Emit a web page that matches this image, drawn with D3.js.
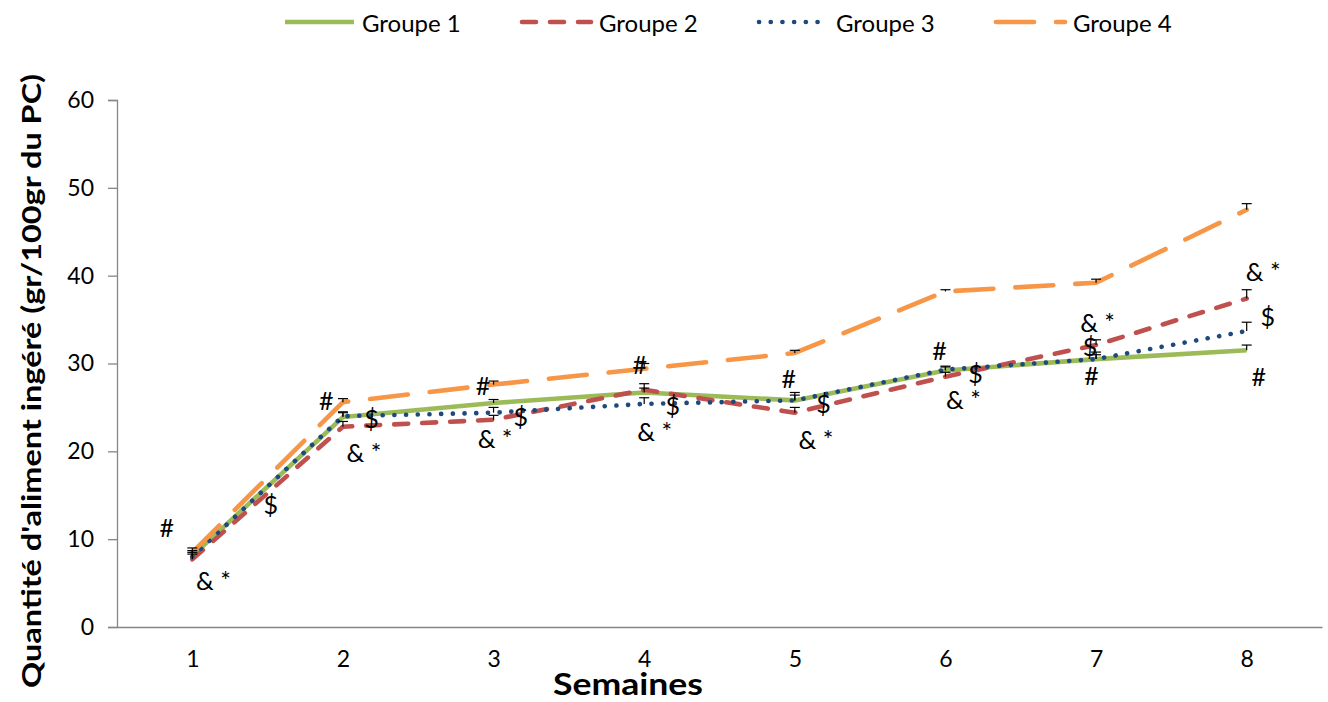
<!DOCTYPE html>
<html>
<head>
<meta charset="utf-8">
<script src="https://cdn.jsdelivr.net/npm/d3@7"></script>
<style>
    body { margin: 0; background: #fff; }
    text { font-family: Lato, "Noto Sans", sans-serif; }
</style>
</head>
<body>
<div id="chart"></div>
<script>
// data
const weeks = [1, 2, 3, 4, 5, 6, 7, 8];
const groupNames = ['Groupe 1', 'Groupe 2', 'Groupe 3', 'Groupe 4'];
const groupe1 = [8.1, 23.9, 25.5, 26.7, 25.8, 29.2, 30.5, 31.5];
const groupe2 = [7.7, 22.8, 23.6, 27.0, 24.4, 28.5, 32.1, 37.4];
const groupe3 = [8.0, 24.0, 24.4, 25.4, 25.8, 29.3, 30.5, 33.7];
const groupe4 = [8.5, 25.6, 27.6, 29.4, 31.2, 38.2, 39.2, 47.5];
// error bars (plus direction only)
const err1 = [0.6, 0.5, 0.4, 0.5, 0.6, 0.4, 0.5, 0.6];
const err2 = [0.6, 0.6, 0.5, 0.7, 0.6, 0.5, 0.6, 1.0];
const err3 = [0.5, 0.5, 0.6, 0.7, 0.9, 0.4, 0.8, 1.0];
const err4 = [0.5, 0.4, 0.4, 0.6, 0.3, 0.2, 0.4, 0.7];
const yTicks = [0, 10, 20, 30, 40, 50, 60];

// significance marks: label, week position, value position
const annoLabels = ['#', '& *', '$',
    '#', '$', '& *',
    '#', '$', '& *',
    '#', '$', '& *',
    '#', '$', '& *',
    '#', '$', '& *',
    '& *', '$', '#',
    '& *', '$', '#'];
const annoWeek = [0.83, 1.14, 1.52,
    1.89, 2.19, 2.14,
    2.93, 3.18, 3.01,
    3.97, 4.19, 4.07,
    4.96, 5.19, 5.14,
    5.96, 6.20, 6.12,
    7.01, 6.96, 6.97,
    8.11, 8.14, 8.08];
const annoValue = [11.4, 5.4, 14.0,
    25.9, 23.8, 19.9,
    27.6, 24.0, 21.5,
    30.0, 25.3, 22.3,
    28.4, 25.5, 21.4,
    31.5, 28.9, 26.0,
    34.7, 32.0, 28.7,
    40.5, 35.4, 28.6];

const series = [
    { name: groupNames[0], values: groupe1, err: err1, color: '#9bbb59', dash: null },
    { name: groupNames[1], values: groupe2, err: err2, color: '#c0504d', dash: '14,14' },
    { name: groupNames[2], values: groupe3, err: err3, color: '#1f497d', dash: '0.1,11.6' },
    { name: groupNames[3], values: groupe4, err: err4, color: '#f79646', dash: '38,22' }
];

const width = 1328, height = 702;
const margin = { top: 100, right: 6, bottom: 75, left: 117 };

const svg = d3.select('#chart').append('svg')
    .attr('width', width)
    .attr('height', height);

const x = d3.scaleLinear()
    .domain([0.5, 8.5])
    .range([margin.left, width - margin.right]);

const y = d3.scaleLinear()
    .domain([0, 60])
    .range([height - margin.bottom, margin.top]);

// y axis
const yAxis = svg.append('g')
    .attr('transform', `translate(${margin.left},0)`)
    .call(d3.axisLeft(y).tickValues(yTicks).tickSize(9).tickPadding(14));
yAxis.select('.domain').attr('stroke', '#868686').attr('stroke-width', 1.3);
yAxis.selectAll('.tick line').attr('stroke', '#868686').attr('stroke-width', 1.3);
yAxis.selectAll('.tick text')
    .style('font-size', '23px')
    .style('font-family', 'Lato, sans-serif')
    .attr('fill', '#000');

// x axis (no ticks)
const xAxis = svg.append('g')
    .attr('transform', `translate(0,${y(0)})`)
    .call(d3.axisBottom(x).tickValues(weeks).tickSize(0).tickPadding(24).tickFormat(d3.format('d')));
xAxis.select('.domain').attr('stroke', '#868686').attr('stroke-width', 1.3);
xAxis.selectAll('.tick text')
    .style('font-size', '23px')
    .style('font-family', 'Lato, sans-serif')
    .attr('fill', '#000');

// titles
svg.append('text')
    .attr('transform', `translate(30,381) rotate(-90)`)
    .attr('text-anchor', 'middle')
    .attr('dominant-baseline', 'central')
    .attr('textLength', 614)
    .attr('lengthAdjust', 'spacingAndGlyphs')
    .style('font-size', '27px')
    .style('font-weight', 'bold')
    .text("Quantité d'aliment ingéré (gr/100gr du PC)");

svg.append('text')
    .attr('x', 628)
    .attr('y', 695)
    .attr('text-anchor', 'middle')
    .attr('textLength', 150)
    .attr('lengthAdjust', 'spacingAndGlyphs')
    .style('font-size', '31px')
    .style('font-weight', 'bold')
    .text('Semaines');

// lines
const line = d3.line()
    .x((d, i) => x(weeks[i]))
    .y(d => y(d));

series.forEach(s => {
    svg.append('path')
        .datum(s.values)
        .attr('d', line)
        .attr('fill', 'none')
        .attr('stroke', s.color)
        .attr('stroke-width', 4.6)
        .attr('stroke-linecap', s.dash ? 'round' : 'butt')
        .attr('stroke-linejoin', 'round')
        .attr('stroke-dasharray', s.dash);
});

// error bars
series.forEach(s => {
    const g = svg.append('g').attr('class', 'errbars');
    s.values.forEach((v, i) => {
        const cx = x(weeks[i]);
        g.append('line')
            .attr('x1', cx).attr('x2', cx)
            .attr('y1', y(v)).attr('y2', y(v + s.err[i]))
            .attr('stroke', '#000').attr('stroke-width', 1.2);
        g.append('line')
            .attr('x1', cx - 5).attr('x2', cx + 5)
            .attr('y1', y(v + s.err[i])).attr('y2', y(v + s.err[i]))
            .attr('stroke', '#000').attr('stroke-width', 1.2);
    });
});

// significance marks
svg.append('g').selectAll('text')
    .data(annoLabels)
    .join('text')
    .attr('x', (d, i) => x(annoWeek[i]))
    .attr('y', (d, i) => y(annoValue[i]))
    .attr('text-anchor', 'middle')
    .attr('dominant-baseline', 'central')
    .style('font-size', '25px')
    .text(d => d);

// legend
const legendX = [362, 599, 836, 1073];
const legend = svg.append('g').attr('class', 'legend');
series.forEach((s, i) => {
    legend.append('line')
        .attr('x1', legendX[i] - 77).attr('x2', legendX[i] - 8)
        .attr('y1', 22).attr('y2', 22)
        .attr('stroke', s.color)
        .attr('stroke-width', 4.6)
        .attr('stroke-linecap', s.dash ? 'round' : 'butt')
        .attr('stroke-dasharray', s.dash);
    legend.append('text')
        .attr('x', legendX[i])
        .attr('y', 22)
        .attr('dominant-baseline', 'central')
        .style('font-size', '24px')
        .text(s.name);
});
</script>
</body>
</html>
